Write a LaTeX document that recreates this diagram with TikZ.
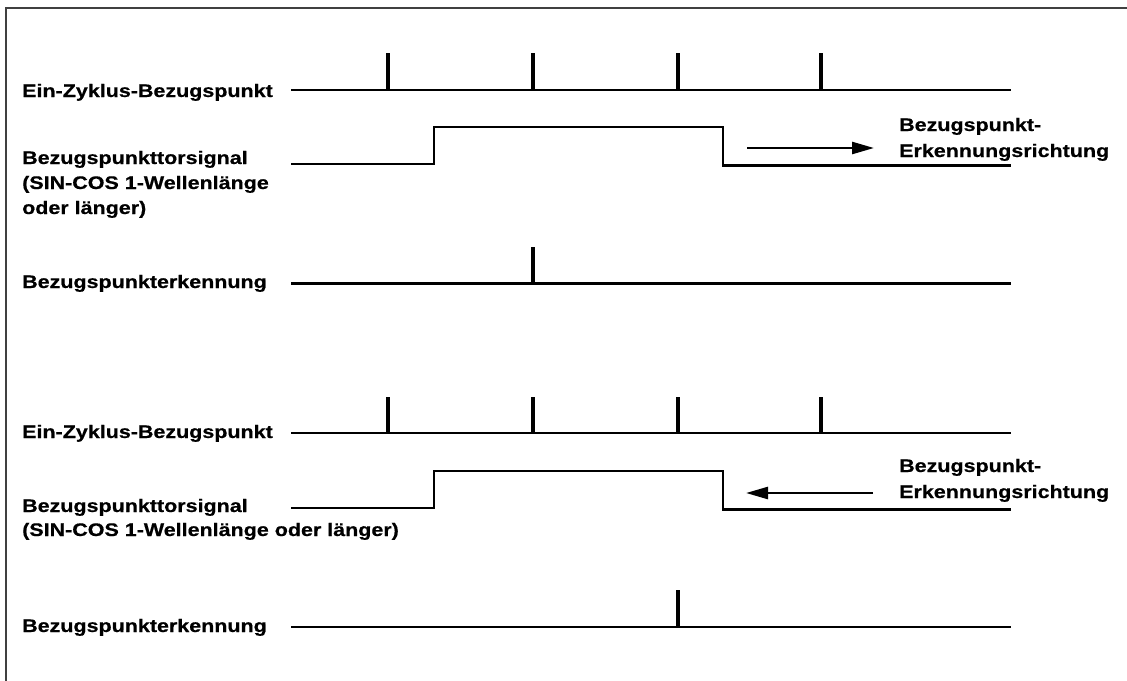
\documentclass[tikz,border=0pt]{standalone}
\usepackage{fontspec}
\setmainfont{Liberation Sans}
\newfontfamily\lblfont[FakeStretch=1.18,FakeBold=0.6]{Liberation Sans}
\usetikzlibrary{arrows.meta}
\begin{document}
\begin{tikzpicture}[x=1pt,y=-1pt,
  lbl/.style={anchor=base west,inner sep=0pt,font=\lblfont\fontsize{18.2}{22}\selectfont\bfseries},
  sig/.style={line width=2.5pt,line join=miter},
  tick/.style={line width=4pt},
  dirarrow/.style={line width=2.5pt,-{Triangle[length=22pt,width=12pt]}},
  frame/.style={line width=1.5pt,draw=black!75}]
\useasboundingbox (0,0) rectangle (1127,680);
\draw[frame] (6,681) -- (6,8) -- (1128,8);

% ---------- upper diagram ----------
\node[lbl] (a1) at (22,97) {Ein-Zyklus-Bezugspunkt};
\node[lbl] (b1) at (22,164) {Bezugspunkttorsignal};
\node[lbl] (b1b) at (22,189) {(SIN-COS 1-Wellenlänge};
\node[lbl] (b1c) at (22,214) {oder länger)};
\node[lbl] (c1) at (22,288) {Bezugspunkterkennung};
\node[lbl] (d1) at (899,131) {Bezugspunkt-};
\node[lbl] (d1b) at (899,157) {Erkennungsrichtung};

\draw[sig] (291,90) -- (1011,90);
\foreach \x in {388,533,678,821} \draw[tick] (\x,90) -- (\x,53);
\draw[sig] (291,164) -- (434,164) -- (434,127) -- (723,127) -- (723,165.5) -- (1011,165.5);
\coordinate (p1s) at (747,148);
\coordinate (p1e) at (874,148);
\draw[dirarrow] (p1s) -- (p1e);
\draw[sig] (291,283.5) -- (1011,283.5);
\draw[tick] (533,283.5) -- (533,247);

% ---------- lower diagram ----------
\node[lbl] (a2) at (22,438) {Ein-Zyklus-Bezugspunkt};
\node[lbl] (b2) at (22,512) {Bezugspunkttorsignal};
\node[lbl] (b2b) at (22,536) {(SIN-COS 1-Wellenlänge oder länger)};
\node[lbl] (c2) at (22,632) {Bezugspunkterkennung};
\node[lbl] (d2) at (899,472) {Bezugspunkt-};
\node[lbl] (d2b) at (899,498) {Erkennungsrichtung};

\draw[sig] (291,433) -- (1011,433);
\foreach \x in {388,533,678,821} \draw[tick] (\x,433) -- (\x,397);
\draw[sig] (291,508) -- (434,508) -- (434,471) -- (723,471) -- (723,509.5) -- (1011,509.5);
\coordinate (p2s) at (873,493);
\coordinate (p2e) at (746,493);
\draw[dirarrow] (p2s) -- (p2e);
\draw[sig] (291,627) -- (1011,627);
\draw[tick] (678,627) -- (678,590);
\end{tikzpicture}
\end{document}
